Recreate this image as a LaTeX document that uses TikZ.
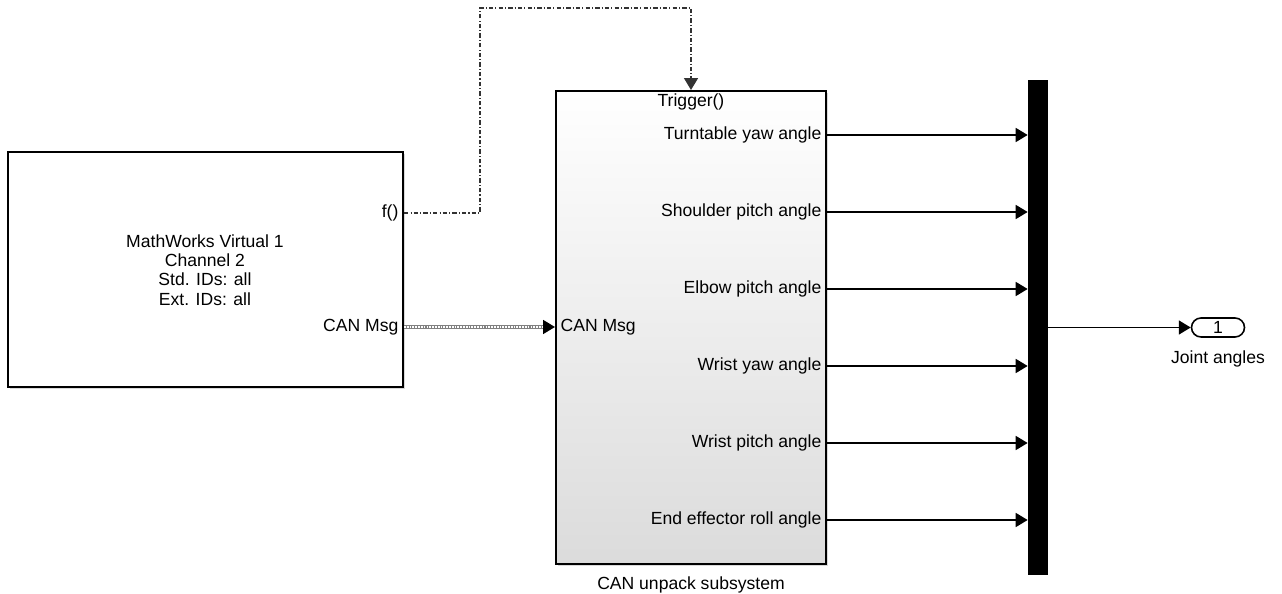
\documentclass[tikz,border=0pt]{standalone}
\usepackage{fontspec}
\setmainfont{Liberation Sans}
\usetikzlibrary{arrows.meta, positioning, shadows}

\begin{document}
\begin{tikzpicture}[x=0.02cm, y=-0.02cm, font=\fontsize{10}{11}\selectfont,
    blockbox/.style={draw, line width=1.2pt, inner sep=0pt,
      drop shadow={shadow xshift=1pt, shadow yshift=-1pt, opacity=0.3}},
    portlbl/.style={inner sep=3pt},
    sig/.style={-{Triangle[length=6.8pt, width=8pt]}, line width=0.8pt},
    busline/.style={draw=gray, line width=2.6pt, shorten >=6.8pt,
      postaction={draw=white, line width=0.8pt, dash pattern=on 1pt off 0.6pt, shorten >=6.8pt}},
    trigline/.style={-{Triangle[length=6.8pt, width=8pt]}, line width=0.7pt, black!80,
      dash pattern=on 2.5pt off 1.2pt on 0.6pt off 1.2pt}]
  \useasboundingbox (0,0) rectangle (1282,594);

  % Blocks
  \node[blockbox, fill=white, minimum width=7.9cm, minimum height=4.7cm] (src) at (205.5,269.5) {};
  \node[blockbox, top color=white, bottom color=gray!28, minimum width=5.4cm, minimum height=9.46cm] (sub) at (691,327.5) {};
  \node[fill=black, inner sep=0pt, minimum width=0.4cm, minimum height=9.9cm] (mux) at (1038,327.5) {};
  \node[draw, line width=0.9pt, rounded corners=0.19cm, minimum width=1.06cm, minimum height=0.38cm, inner sep=0pt] (outp) at (1218,327.5) {1};

  % Labels
  \node[align=center] (srctxt) at (205,270) {MathWorks Virtual 1\\Channel 2\\Std. IDs: all\\Ext. IDs: all};
  \node[portlbl, anchor=east] (fcall) at (src.east |- 0,213) {f()};
  \node[portlbl, anchor=east] (msgout) at (src.east |- 0,327) {CAN Msg};
  \node[portlbl, anchor=west] (msgin) at (sub.west |- 0,327) {CAN Msg};
  \node[portlbl, anchor=north, inner sep=2pt] (trig) at (sub.north) {Trigger()};
  \node[below=3pt of sub] (subtxt) {CAN unpack subsystem};
  \node[below=4pt of outp] (outtxt) {Joint angles};

  % Outputs of the subsystem
  \foreach \lbl [count=\i] in {Turntable yaw angle, Shoulder pitch angle, Elbow pitch angle,
      Wrist yaw angle, Wrist pitch angle, End effector roll angle} {
    \node[portlbl, anchor=east] (p\i) at (sub.east |- 0,{135+77*(\i-1)}) {\lbl};
    \draw[sig] (p\i.east) -- (mux.west |- p\i.east);
  }

  % Signals
  \coordinate (bend) at (480,8);
  \draw[trigline] (fcall.east) -| (bend) -| (sub.north);
  \draw[sig] (msgout.east) -- (msgin.west);
  \draw[busline] (msgout.east) -- (msgin.west);
  \draw[sig] (mux.east |- outp) -- (outp.west);
\end{tikzpicture}
\end{document}
